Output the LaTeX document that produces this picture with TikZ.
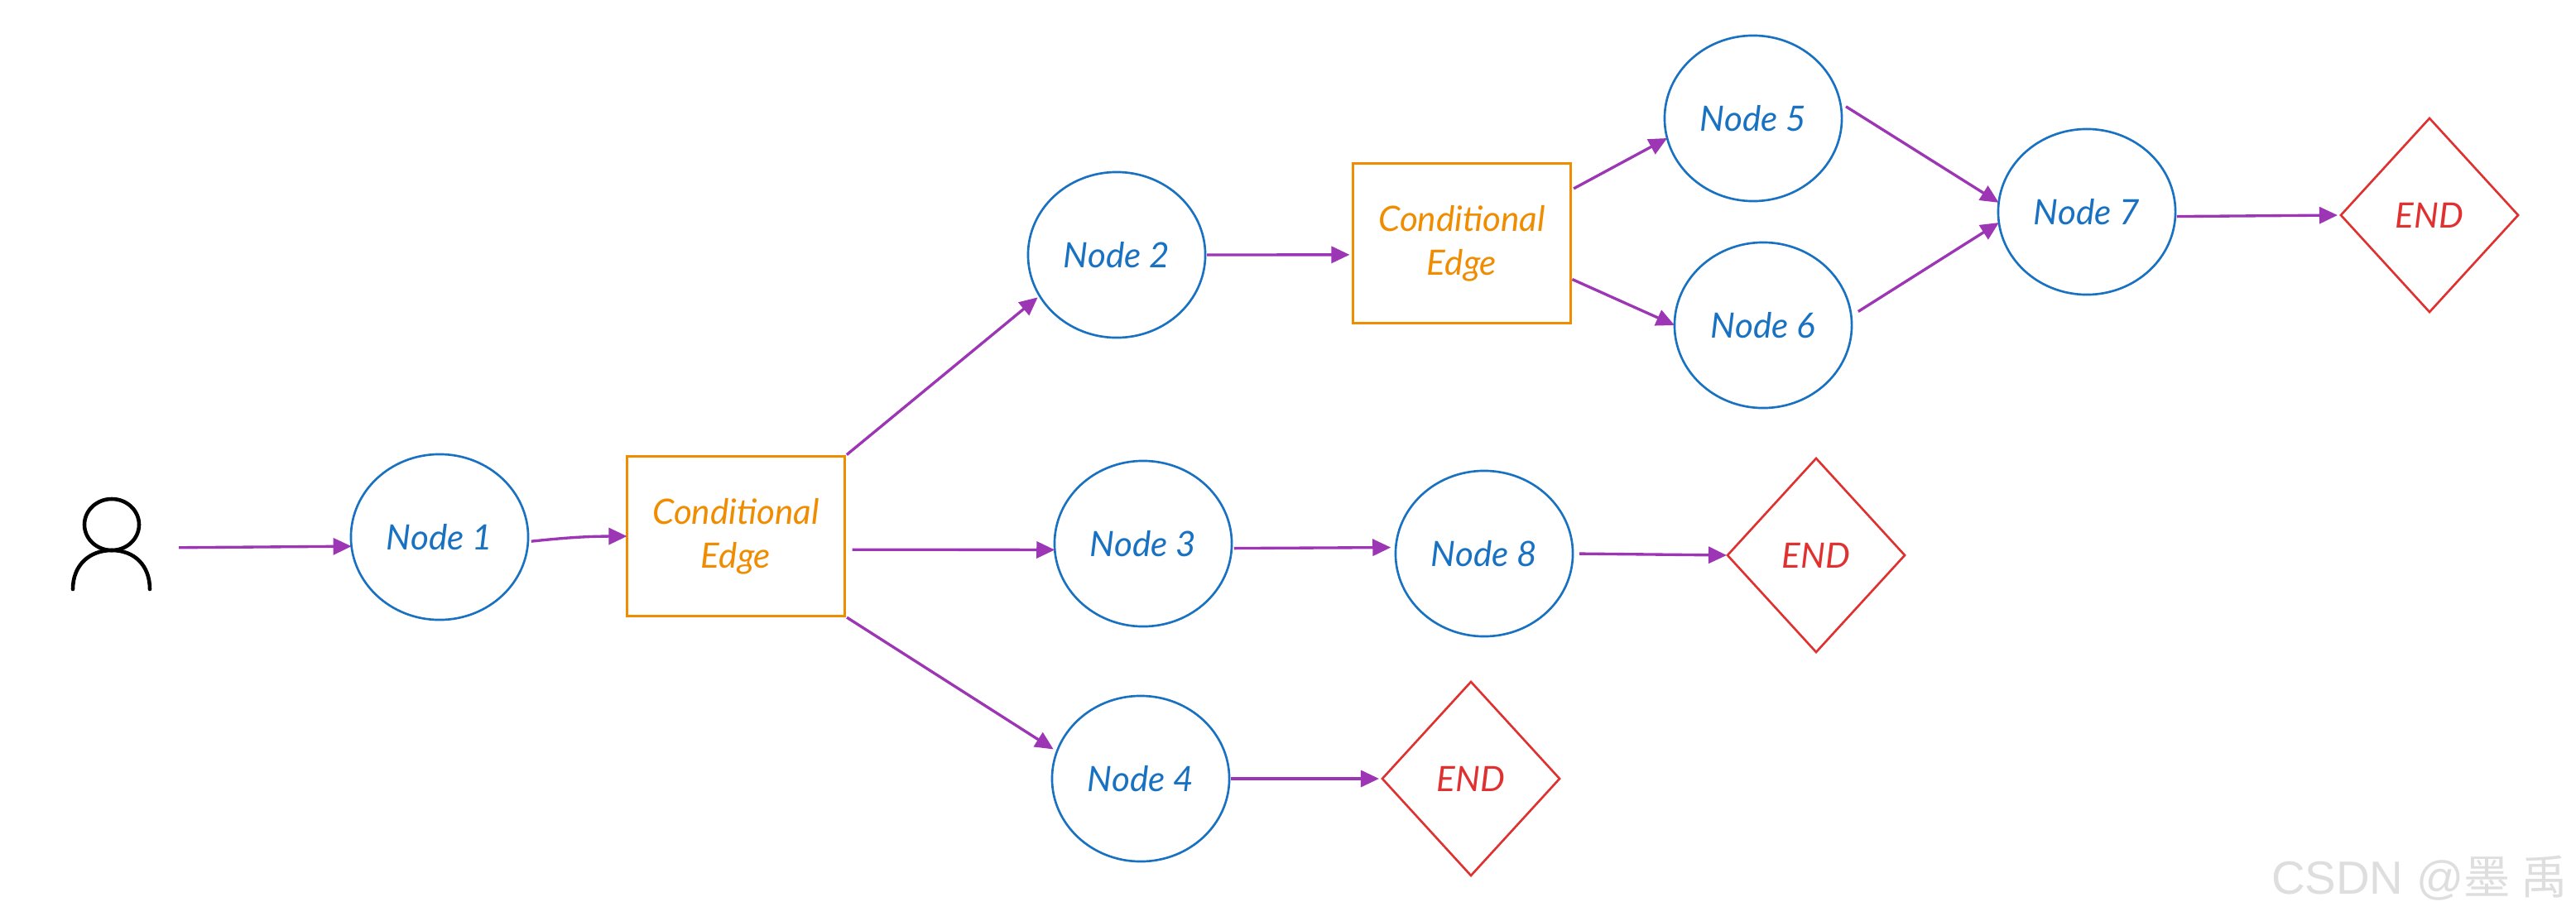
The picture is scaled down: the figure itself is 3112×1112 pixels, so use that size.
\documentclass[tikz,border=0pt]{standalone}
\usepackage{fontspec}
\setmainfont{Lato}
\newfontfamily\cjkwm{Noto Sans CJK SC}
\newfontfamily\latinwm{Liberation Sans}
\usetikzlibrary{shapes.geometric,arrows.meta}
\definecolor{bluec}{HTML}{1971C2}
\definecolor{orangec}{HTML}{F08C00}
\definecolor{redc}{HTML}{E03131}
\definecolor{purplec}{HTML}{9C36B5}
\tikzset{
  hand/.style={font=\itshape\fontsize{12}{15}\selectfont,align=center},
  noderound/.style={ellipse,draw=bluec,text=bluec,line width=0.75pt,minimum width=2.14cm,minimum height=2cm,inner sep=0pt,outer sep=0pt,hand},
  condbox/.style={rectangle,draw=orangec,text=orangec,line width=0.9pt,minimum width=2.63cm,minimum height=1.93cm,inner sep=0pt,outer sep=0pt,hand},
  endbox/.style={diamond,draw=redc,text=redc,line width=0.75pt,aspect=0.91,minimum width=2.14cm,minimum height=2.34cm,inner sep=0pt,outer sep=0pt,hand},
  conn/.style={draw=purplec,line width=0.95pt,-{Triangle[length=0.22cm,width=0.2cm]}},
  personline/.style={draw=black,line width=1.3pt,line cap=round},
  watermark/.style={text=black!13,font=\latinwm\fontsize{16}{18}\selectfont,inner sep=0pt}
}
\begin{document}
\begin{tikzpicture}[x=0.01cm,y=-0.01cm]
\useasboundingbox (0,0) rectangle (3112,1112);
\fill[white] (0,0) rectangle (3112,1112);
% person
\node[minimum width=0.94cm,minimum height=1.18cm,inner sep=0pt,outer sep=0pt] (user) at (135,662) {};
\draw[personline] (135,634) ellipse [x radius=33,y radius=31];
\draw[personline] (88,712) .. controls (88,683) and (108,665) .. (135,665) .. controls (162,665) and (181,683) .. (181,712);
% nodes
\node[noderound] (n1) at (531,649) {Node 1};
\node[noderound] (n2) at (1349,308) {Node 2};
\node[noderound] (n3) at (1381,657) {Node 3};
\node[noderound] (n4) at (1378,941) {Node 4};
\node[noderound] (n5) at (2118,143) {Node 5};
\node[noderound] (n6) at (2130,393) {Node 6};
\node[noderound] (n7) at (2521,256) {Node 7};
\node[noderound] (n8) at (1793,669) {Node 8};
\node[condbox] (c1) at (889,648) {Conditional\\Edge};
\node[condbox] (c2) at (1766,294) {Conditional\\Edge};
\node[endbox] (e1) at (2935,260) {END};
\node[endbox] (e2) at (2194,671) {END};
\node[endbox] (e3) at (1777,941) {END};
% connectors
\draw[conn,shorten <=0.34cm] (user.east) -- (n1.186);
\draw[conn,shorten <=0.04cm] (n1.-3) to[bend left=3] (c1.west);
\draw[conn,shorten <=0.03cm,shorten >=0.03cm] (c1.north east) -- (n2.208);
\draw[conn,shorten <=0.09cm] (c1.-7.4) -- (n3.184);
\draw[conn,shorten <=0.03cm,shorten >=0.05cm] (c1.south east) -- (n4.162);
\draw[conn,shorten <=0.02cm,shorten >=0.04cm] (n2.east) -- (c2.186);
\draw[conn,shorten <=0.04cm] (c2.26.6) -- (n5.193);
\draw[conn,shorten <=0.02cm] (c2.-18) -- (n6.west);
\draw[conn,shorten <=0.08cm] (n5.10) -- (n7.174);
\draw[conn,shorten <=0.1cm] (n6.6) -- (n7.187);
\draw[conn,shorten <=0.02cm,shorten >=0.04cm] (n7.-3) -- (e1.west);
\draw[conn,shorten <=0.03cm,shorten >=0.06cm] (n3.-3) -- (n8.176);
\draw[conn,shorten <=0.08cm,shorten >=0.01cm] (n8.east) -- (e2.west);
\draw[conn,shorten <=0.02cm,shorten >=0.04cm] (n4.east) -- (e3.west);
% watermark
\node[watermark,anchor=base east] (wm) at (3102,1080) {CSDN @{\cjkwm 墨 禹}};
\end{tikzpicture}
\end{document}
